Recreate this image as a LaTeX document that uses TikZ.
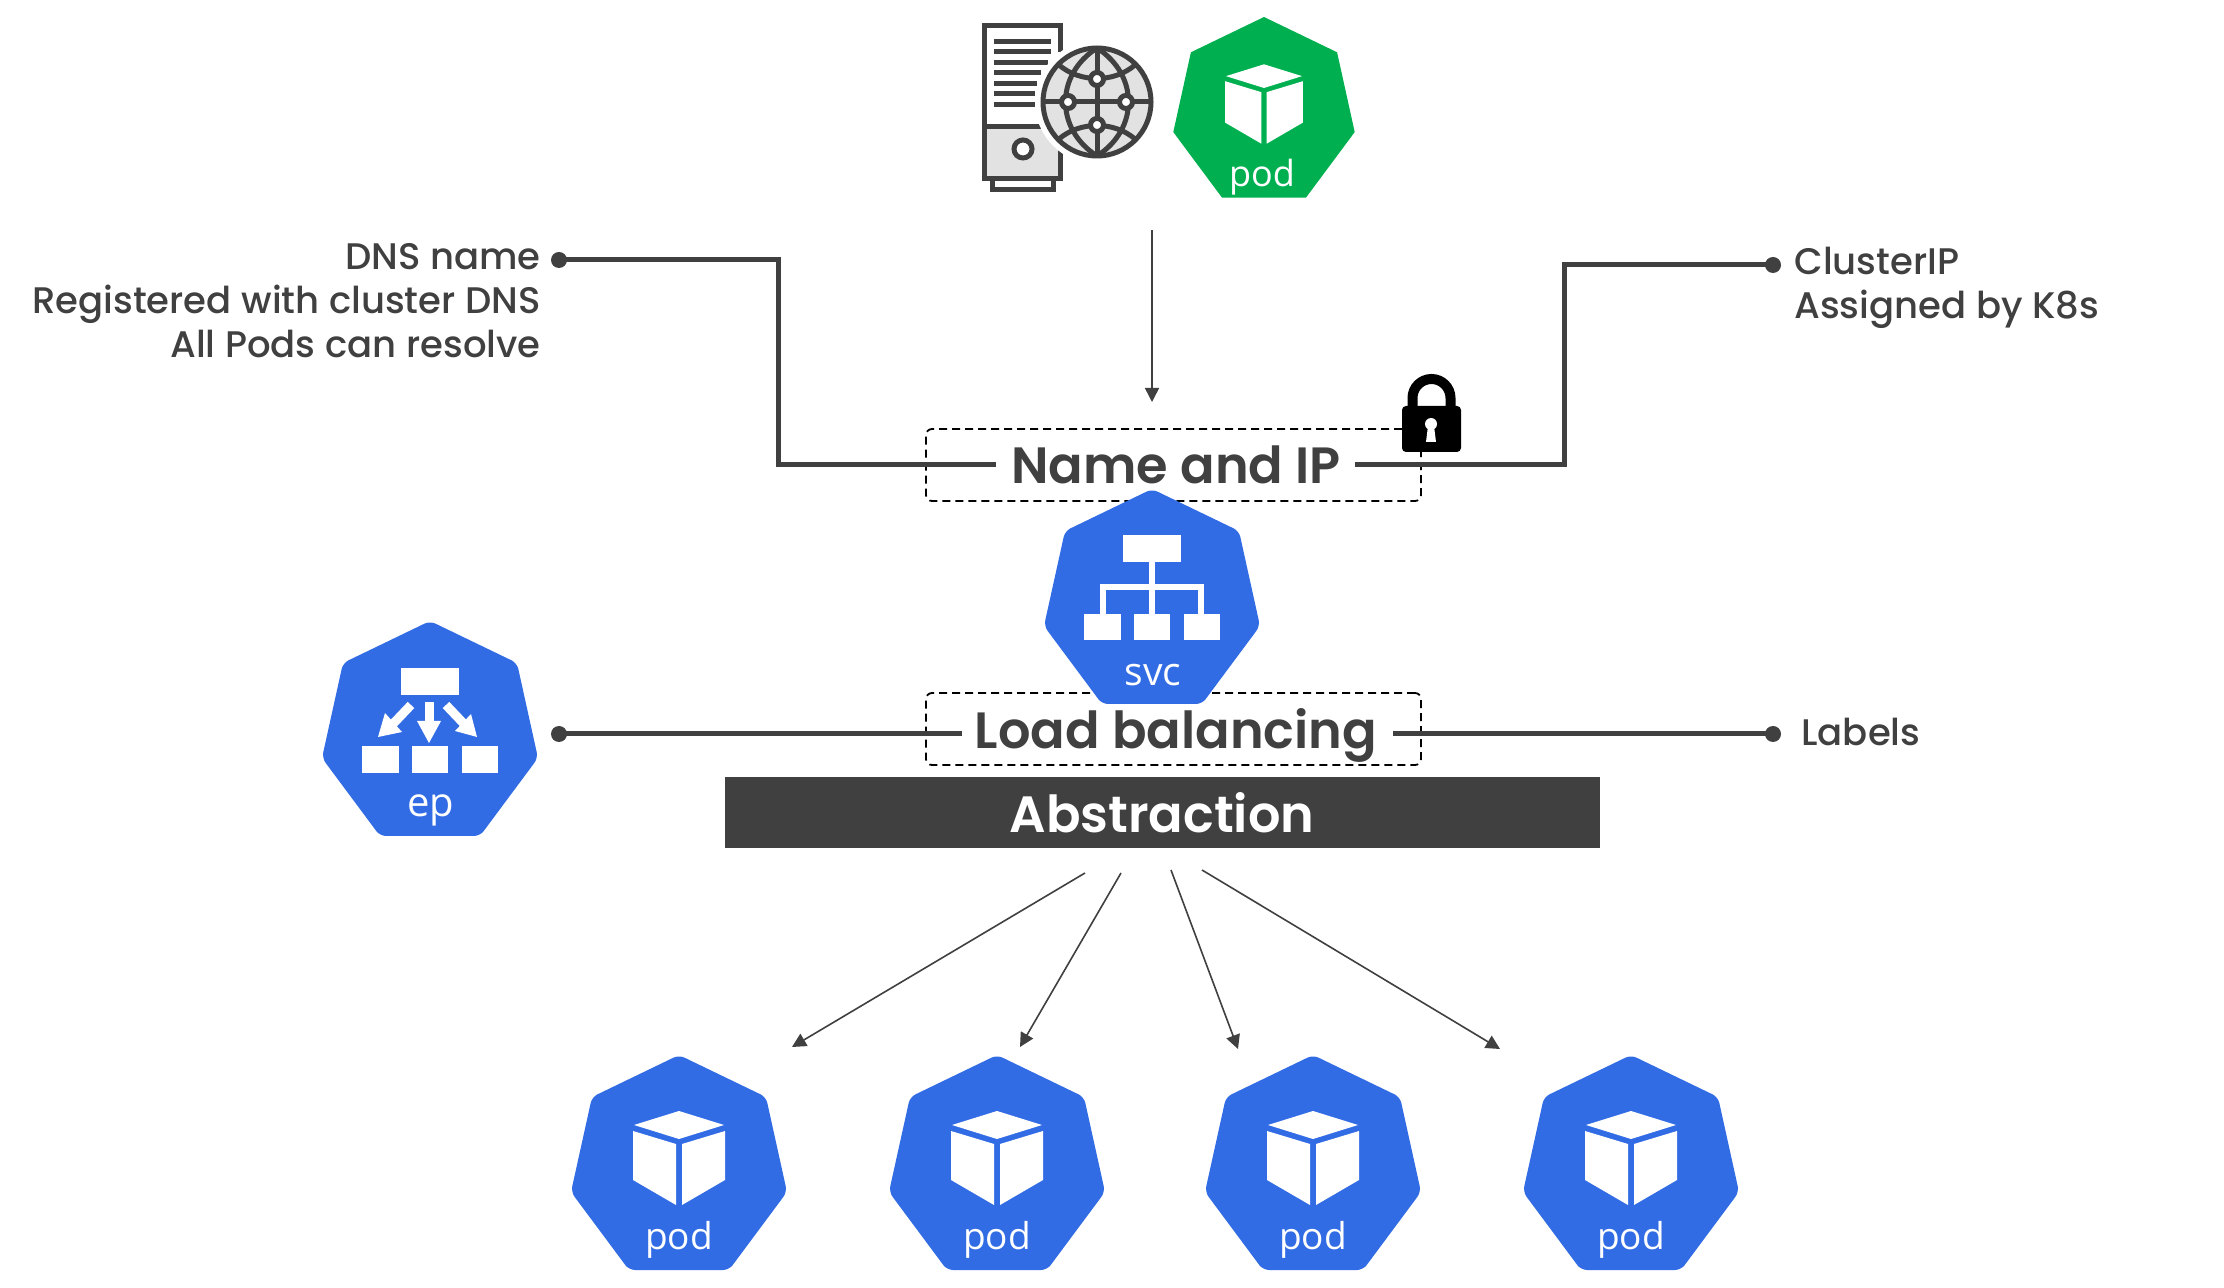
\documentclass[tikz,border=0pt]{standalone}
\usepackage{fontspec}
\usetikzlibrary{arrows.meta}
\setmainfont{Poppins Medium}
\newfontfamily\titlefont{Poppins SemiBold}
\newfontfamily\iconfont{Open Sans}
\definecolor{ink}{HTML}{404040}
\definecolor{kblue}{HTML}{326CE5}
\definecolor{kgreen}{HTML}{00B050}
\definecolor{lgrey}{HTML}{E2E2E2}
\tikzset{
 thickline/.style={draw=ink,line width=2.5pt,line join=miter},
 thinarrow/.style={draw=ink,line width=0.8pt,-{Triangle[length=7pt,width=7pt]}},
 dashbox/.style={draw=black,line width=0.9pt,dash pattern=on 4pt off 2.5pt,rounded corners=3pt},
 dotnode/.style={circle,fill=ink,inner sep=0pt,minimum size=8pt},
 labeltext/.style={text=ink,font=\fontsize{18.5}{22}\selectfont,inner sep=0pt},
 titletext/.style={text=ink,font=\titlefont\fontsize{25.5}{28}\selectfont,inner sep=0pt},
 icontext/.style={text=white,inner sep=0pt,anchor=base},
 srv/.style={draw=ink,line width=2.5pt},
}
% heptagon: name, cx, top, colour, scale, corner radius
\newcommand{\kubeshape}[6]{%
 \coordinate (#1) at (#2,#3);
 \fill[#4,rounded corners=#6,shift={(#1)},scale=#5]
  (0,0)--(87,42)--(108,137)--(50,215)--(-50,215)--(-108,137)--(-87,42)--cycle;
}
\newcommand{\cubeicon}[3]{%
 \begin{scope}[shift={(#1)},scale=#2]
 \fill[#3] (0,56)--(45,70)--(0,84)--(-45,70)--cycle;
 \fill[#3] (-46,76)--(-3,89)--(-3,150)--(-46,125)--cycle;
 \fill[#3] (46,76)--(3,89)--(3,150)--(46,125)--cycle;
 \end{scope}
}
\begin{document}
\begin{tikzpicture}[x=0.5pt,y=-0.5pt]
\useasboundingbox (0,0) rectangle (2224,1288);
\fill[white] (0,0) rectangle (2224,1288);

% server with globe
\begin{scope}[name prefix=srv-]
 \fill[lgrey] (984,127) rectangle (1061,178);
 \draw[srv] (1060.5,52)--(1060.5,26)--(984.5,26)--(984.5,178.5)--(1060.5,178.5)--(1060.5,150);
 \draw[srv] (992.5,181)--(992.5,189.5)--(1053.5,189.5)--(1053.5,181);
 \draw[srv] (984,127)--(1045,127);
 \draw[srv,fill=white] (1023,149) circle[radius=9];
 \foreach \yy/\xe in {42/1051,52/1051,63/1048,73/1041,84/1037,94/1035,105/1035}
   \draw[srv] (994,\yy)--(\xe,\yy);
 \fill[white] (1097,102) circle[radius=62];
 \draw[srv,fill=lgrey] (1097,102) circle[radius=54];
 \draw[srv] (1097,48)--(1097,156) (1043,102)--(1151,102);
 \draw[srv] (1097,48) .. controls (1055,75) and (1055,129) .. (1097,156);
 \draw[srv] (1097,48) .. controls (1139,75) and (1139,129) .. (1097,156);
 \draw[srv] (1059,65) .. controls (1080,83) and (1114,83) .. (1135,65);
 \draw[srv] (1059,139) .. controls (1080,121) and (1114,121) .. (1135,139);
 \foreach \dx/\dy in {0/-23,0/23,-29/0,29/0}
   \draw[srv,fill=white] (1097+\dx,102+\dy) circle[radius=6.5];
\end{scope}

% green pod
\kubeshape{gpod}{1264}{17}{kgreen}{0.84}{0pt}
\cubeicon{gpod}{0.845}{white}
\node[icontext,font=\iconfont\fontsize{18}{20}\selectfont] (gpodtext) at (1262,187) {pod};

% dashed boxes
\node[dashbox,minimum width=247.5pt,minimum height=36pt,inner sep=0pt] (nameframe) at (1173.5,465) {};
\node[dashbox,minimum width=247.5pt,minimum height=36pt,inner sep=0pt] (lbframe) at (1173.5,729) {};

% titles
\node[titletext] (nameip) at (1176,465) {Name and IP};
\node[titletext] (lb) at (1176,735) {Load balancing};

% abstraction bar
\node[fill=ink,text=white,font=\titlefont\fontsize{25.5}{28}\selectfont,minimum width=437.5pt,minimum height=35.5pt,inner sep=0pt] (bar) at (1162,813) {Abstraction};

% label text
\node[labeltext,align=right,anchor=east] (dnslabel) at (541,301) {DNS name\\Registered with cluster DNS\\All Pods can resolve};
\node[labeltext,align=left,anchor=west] (iplabel) at (1794,288) {ClusterIP\\Assigned by K8s};
\node[labeltext,anchor=west] (labelslabel) at (1801,732) {Labels};

% connector ends
\node[dotnode] (dotdns) at (559,260) {};
\node[dotnode] (dotip) at (1773,265) {};
\node[dotnode] (dotep) at (559,734) {};
\node[dotnode] (dotlab) at (1773,734) {};
\coordinate (nameL) at (996,465);
\coordinate (nameR) at (1355,465);
\coordinate (lbL) at (962,734);
\coordinate (lbR) at (1393,734);
\coordinate (bendA) at (778,260);
\coordinate (bendB) at (778,465);
\coordinate (bendC) at (1564,465);
\coordinate (bendD) at (1564,265);
\draw[thickline] (dotdns.center)--(bendA)--(bendB)--(nameL);
\draw[thickline] (nameR)--(bendC)--(bendD)--(dotip.center);
\draw[thickline] (dotep.center)--(lbL);
\draw[thickline] (lbR)--(dotlab.center);

% thin arrows
\coordinate (topS) at (1152,230);
\coordinate (topE) at (1152,402);
\draw[thinarrow] (topS)--(topE);
\coordinate (s1) at (1085,873); \coordinate (e1) at (792,1047);
\coordinate (s2) at (1121,873); \coordinate (e2) at (1020,1047);
\coordinate (s3) at (1171,870); \coordinate (e3) at (1238,1049);
\coordinate (s4) at (1202,870); \coordinate (e4) at (1500,1049);
\draw[thinarrow] (s1)--(e1);
\draw[thinarrow] (s2)--(e2);
\draw[thinarrow] (s3)--(e3);
\draw[thinarrow] (s4)--(e4);

% padlock
\begin{scope}
 \draw[black,line width=5pt] (1412.5,410)--(1412.5,398) arc[start angle=180,end angle=360,radius=19] --(1450.5,410);
 \fill[black,rounded corners=2pt] (1402,406) rectangle (1461,452);
 \fill[white] (1431,424) circle[radius=6];
 \fill[white] (1428,426)--(1434,426)--(1436,442)--(1426,442)--cycle;
\end{scope}

% svc
\kubeshape{svc}{1152}{489}{kblue}{1}{3pt}
\begin{scope}[shift={(svc)}]
 \fill[white] (-29,46) rectangle (29,73);
 \fill[white] (-68,125) rectangle (-31,151);
 \fill[white] (-18,125) rectangle (18,151);
 \fill[white] (32,125) rectangle (68,151);
 \draw[white,line width=3pt] (0,73)--(0,125);
 \draw[white,line width=3pt] (-49,125)--(-49,98)--(49,98)--(49,125);
\end{scope}
\node[icontext,font=\iconfont\fontsize{19.5}{22}\selectfont] (svctext) at (1153,686) {svc};

% ep
\kubeshape{ep}{430}{621}{kblue}{1}{3pt}
\begin{scope}[shift={(ep)}]
 \fill[white] (-29,47) rectangle (29,74);
 \fill[white] (-68,125) rectangle (-31,152);
 \fill[white] (-18,125) rectangle (18,152);
 \fill[white] (32,125) rectangle (68,152);
 \fill[white] (-5,81) rectangle (4,102);
 \fill[white] (-13,100)--(11,100)--(-1,122)--cycle;
 \draw[white,line width=4.5pt] (16,84)--(36,105);
 \fill[white] (41,93)--(47,116)--(25,110)--cycle;
 \draw[white,line width=4.5pt] (-19,84)--(-39,105);
 \fill[white] (-45,92)--(-52,116)--(-28,111)--cycle;
\end{scope}
\node[icontext,font=\iconfont\fontsize{20}{24}\selectfont] (eptext) at (431,817) {ep};

% blue pods
\foreach \nm/\cx in {pa/679,pb/997,pc/1313,pd/1631}{
 \kubeshape{\nm}{\cx}{1055}{kblue}{1}{3pt}
 \cubeicon{\nm}{1}{white}
 \node[icontext,font=\iconfont\fontsize{18.5}{20}\selectfont] (\nm text) at (\cx,1249) {pod};
}
\end{tikzpicture}
\end{document}
